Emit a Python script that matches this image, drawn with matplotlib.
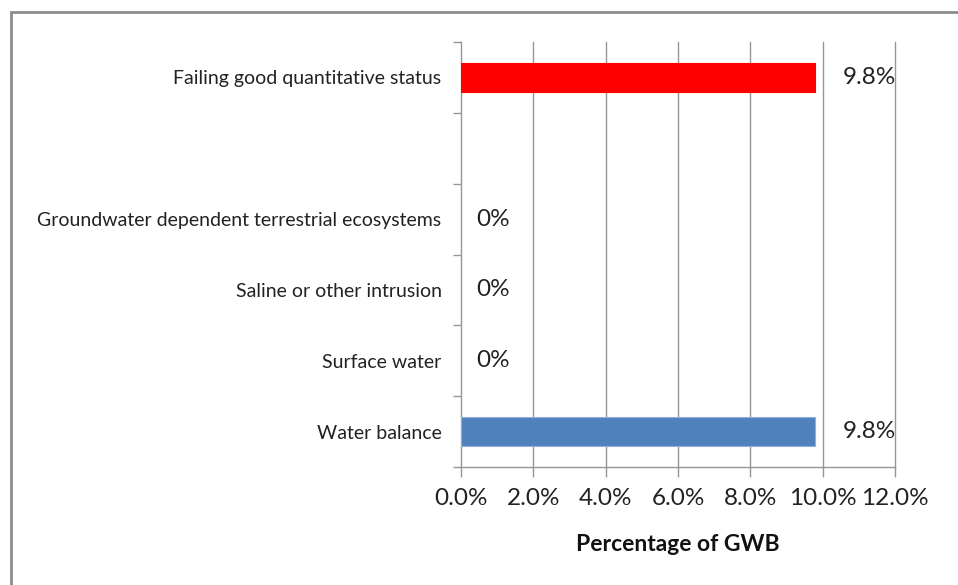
import matplotlib.pyplot as plt
from matplotlib.patches import Rectangle
from matplotlib.ticker import FuncFormatter, FixedLocator

plt.rcParams['font.family'] = ['Lato', 'DejaVu Sans']

# top to bottom; the second slot is empty in the original chart
categories = ['Failing good quantitative status', '',
              'Groundwater dependent terrestrial ecosystems',
              'Saline or other intrusion', 'Surface water', 'Water balance']
values = [9.8, None, 0.0, 0.0, 0.0, 9.8]
colors = ['#FF0000', None, '#4F81BD', '#4F81BD', '#4F81BD', '#4F81BD']
labels = ['9.8%', '', '0%', '0%', '0%', '9.8%']
xticks = [0, 2, 4, 6, 8, 10, 12]

grey = '#969696'
fig = plt.figure(figsize=(9.58, 5.85), dpi=100)
fig.patches.append(Rectangle((11 / 958, -0.1), 1.2, 1 - 12 / 585 + 0.1,
                             transform=fig.transFigure, fill=False,
                             edgecolor='#8c8c8c', linewidth=2))
ax = fig.add_axes([461 / 958, 1 - 467 / 585, 434 / 958, 425 / 585])

n = len(categories)
ypos = [n - 1 - i for i in range(n)]
for y, v, c, lab in zip(ypos, values, colors, labels):
    if v is None:
        continue
    if v > 0:
        ax.barh(y, v, height=0.41, color=c,
                edgecolor='#8fb0d8' if c == '#4F81BD' else c,
                linewidth=0.8, zorder=3)
    ax.annotate(lab, (v, y), xytext=(11 if v == 0 else 20, 0),
                textcoords='offset points', va='center', ha='left',
                fontsize=17.5, color='#222222')

ax.set_xlim(0, 12)
ax.set_ylim(-0.5, n - 0.5)
ax.set_xticks(xticks)
ax.xaxis.set_major_formatter(FuncFormatter(lambda x, p: '%.1f%%' % x))
ax.set_yticks(ypos)
ax.set_yticklabels(categories, fontsize=14, color='#222222')
ax.yaxis.set_minor_locator(FixedLocator([i - 0.5 for i in range(n + 1)]))
ax.tick_params(axis='y', which='major', length=0, pad=14)
ax.tick_params(axis='y', which='minor', length=6, color=grey, width=1)
ax.tick_params(axis='x', which='major', length=7, color=grey, width=1,
               labelsize=17.5, labelcolor='#222222', pad=8)
for x in xticks[1:]:
    ax.axvline(x, color=grey, linewidth=1, zorder=0, clip_on=False)
for side in ['top', 'right']:
    ax.spines[side].set_visible(False)
for side in ['left', 'bottom']:
    ax.spines[side].set_color(grey)
    ax.spines[side].set_linewidth(1)
ax.set_xlabel('Percentage of GWB', fontsize=16.5, fontweight='bold',
              labelpad=18, color='#111111')

fig.savefig('out.png', dpi=100)
